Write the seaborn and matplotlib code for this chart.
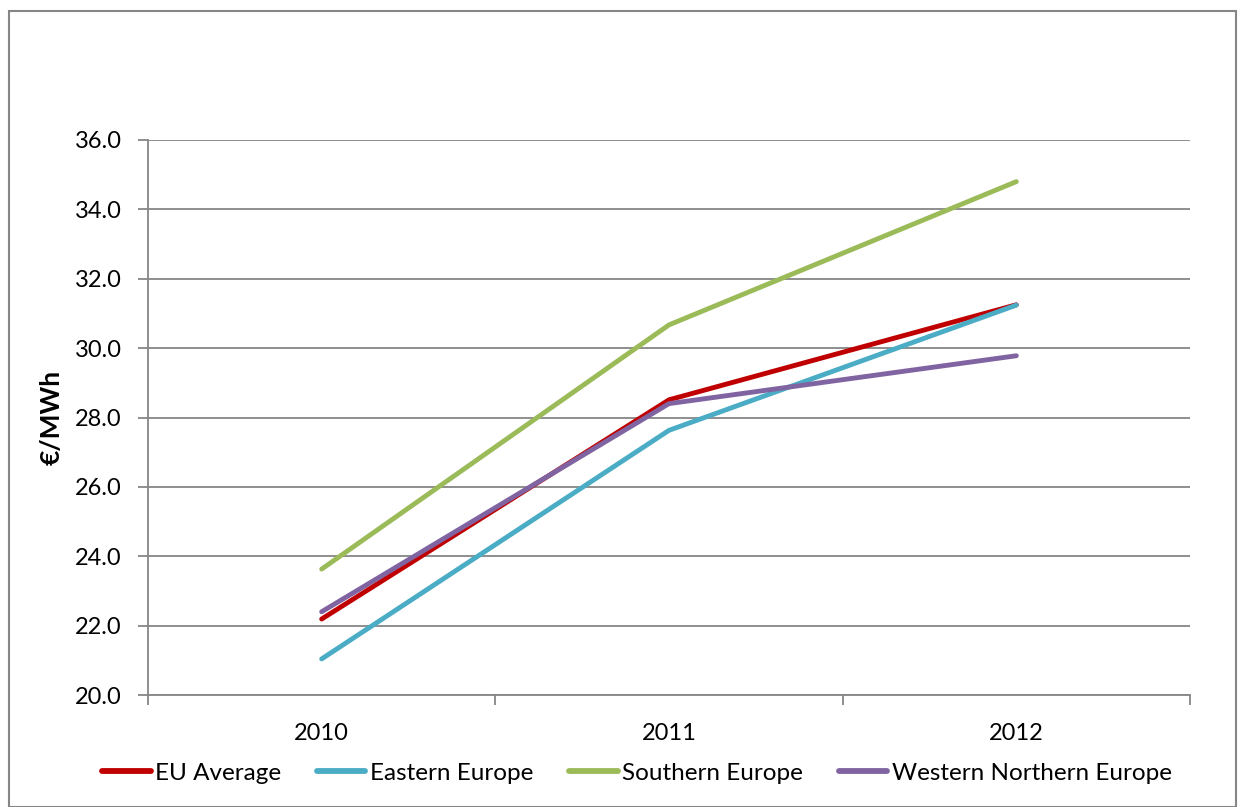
import matplotlib
matplotlib.use("Agg")
import matplotlib.pyplot as plt
import seaborn as sns
import pandas as pd
from matplotlib.patches import Rectangle

years = ["2010", "2011", "2012"]
eu_average = [22.19, 28.51, 31.25]
eastern_europe = [21.04, 27.63, 31.24]
southern_europe = [23.63, 30.67, 34.80]
western_northern_europe = [22.40, 28.40, 29.78]
series_names = ["EU Average", "Eastern Europe", "Southern Europe", "Western Northern Europe"]
colors = ["#C00000", "#4BACC6", "#9BBB59", "#8064A2"]
yticks = [20.0, 22.0, 24.0, 26.0, 28.0, 30.0, 32.0, 34.0, 36.0]

rows = []
for name, vals in zip(series_names, [eu_average, eastern_europe, southern_europe, western_northern_europe]):
    for y, v in zip(years, vals):
        rows.append({"Year": y, "Value": v, "Series": name})
df = pd.DataFrame(rows)

sns.set_theme(style="white")
plt.rcParams["font.family"] = ["Lato", "DejaVu Sans"]
plt.rcParams["text.color"] = "black"
plt.rcParams["axes.labelcolor"] = "black"

fig = plt.figure(figsize=(12.45, 8.07), dpi=100)
ax = fig.add_axes([148/1245, 1 - 695/807, (1190-148)/1245, (695-140)/807])

sns.lineplot(data=df, x="Year", y="Value", hue="Series", hue_order=series_names,
             palette=colors, linewidth=3.5, ax=ax, legend=True, sort=False)
for ln in ax.lines:
    ln.set_solid_capstyle("round")
    ln.set_solid_joinstyle("round")

ax.set_xlim(-0.5, 2.5)
ax.set_ylim(20, 36)
ax.set_yticks(yticks)
ax.set_yticklabels([f"{t:.1f}" for t in yticks])
ax.set_xticks(range(len(years)))
ax.set_xticklabels(years)
ax.set_xticks([-0.5, 0.5, 1.5, 2.5], minor=True)
ax.tick_params(axis="x", which="major", length=0, pad=20, labelsize=17, labelcolor="black")
ax.tick_params(axis="x", which="minor", length=7, width=1.3, color="#868686", direction="out", bottom=True)
ax.tick_params(axis="y", length=7, width=1.3, color="#868686", direction="out", left=True, pad=12,
               labelsize=17, labelcolor="black")
ax.yaxis.grid(True, color="#868686", linewidth=1.3)
ax.xaxis.grid(False)
ax.set_axisbelow(True)
for s in ["top", "right"]:
    ax.spines[s].set_visible(False)
for s in ["left", "bottom"]:
    ax.spines[s].set_color("#868686")
    ax.spines[s].set_linewidth(1.3)
ax.set_xlabel("")
ax.set_ylabel("€/MWh", fontsize=19, fontweight="bold", labelpad=8, color="black")

handles, labels = ax.get_legend_handles_labels()
ax.get_legend().remove()
for h in handles:
    h.set_linewidth(4.2)
    h.set_solid_capstyle("round")
fig.legend(handles, labels, loc="center", bbox_to_anchor=(637/1245, 1 - 773/807), ncol=4,
           frameon=False, fontsize=17.5, handlelength=2.0, handletextpad=0.2, columnspacing=1.45)

fig.patches.append(Rectangle((9/1245, 0), (1236-9)/1245, 1 - 11/807, transform=fig.transFigure,
                             fill=False, edgecolor="#868686", linewidth=1.5))

fig.savefig("out.png", dpi=100)
